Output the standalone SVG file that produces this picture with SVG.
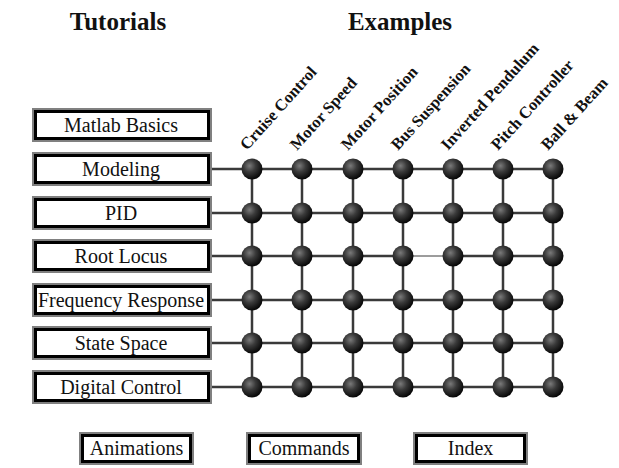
<svg xmlns="http://www.w3.org/2000/svg" xmlns:xlink="http://www.w3.org/1999/xlink" width="619" height="468" viewBox="0 0 619 468">
<style>
.title{font-family:"Liberation Serif","Times New Roman",serif;font-weight:bold;font-size:25px;fill:#111;text-anchor:middle}
.lbl{font-family:"Liberation Serif","Times New Roman",serif;font-size:20px;fill:#111;text-anchor:middle}
.ex{font-family:"Liberation Serif","Times New Roman",serif;font-weight:bold;font-size:16.5px;fill:#111}
.frame{fill:#fff;stroke:#808080;stroke-width:2}
.inner{fill:none;stroke:#000;stroke-width:3}
.wire{stroke:#3a3a3a;stroke-width:2.5;fill:none}
.thin{stroke:#3a3a3a;stroke-width:1;fill:none}
</style>
<defs>
<radialGradient id="bg" cx="0.38" cy="0.35" r="0.65">
<stop offset="0" stop-color="#7a7a7a"/>
<stop offset="0.45" stop-color="#3a3a3a"/>
<stop offset="1" stop-color="#080808"/>
</radialGradient>
<circle id="ball" r="10.5" fill="url(#bg)"/>
</defs>
<rect width="619" height="468" fill="#fff"/>
<g id="titles">
<text class="title" x="118" y="30">Tutorials</text>
<text class="title" x="400" y="30">Examples</text>
</g>
<g id="connectors">
<path class="wire" d="M212 169H553M212 213H553M212 256H403M453 256H553M212 300H553M212 343H553M212 387H553"/>
<path class="thin" d="M403 256H453"/>
<path class="wire" d="M252 169V387M302 169V387M353 169V387M403 169V387M453 169V387M503 169V387M553 169V387"/>
</g>
<g id="tutorial-matlab-basics"><rect class="frame" x="33" y="109" width="178" height="32"/><rect class="inner" x="35.5" y="111.5" width="173" height="27"/><text class="lbl" x="121" y="132">Matlab Basics</text></g>
<g id="tutorial-modeling"><rect class="frame" x="33" y="153" width="178" height="32"/><rect class="inner" x="35.5" y="155.5" width="173" height="27"/><text class="lbl" x="121" y="176">Modeling</text></g>
<g id="tutorial-pid"><rect class="frame" x="33" y="197" width="178" height="32"/><rect class="inner" x="35.5" y="199.5" width="173" height="27"/><text class="lbl" x="121" y="220">PID</text></g>
<g id="tutorial-root-locus"><rect class="frame" x="33" y="240" width="178" height="32"/><rect class="inner" x="35.5" y="242.5" width="173" height="27"/><text class="lbl" x="121" y="263">Root Locus</text></g>
<g id="tutorial-frequency-response"><rect class="frame" x="33" y="284" width="178" height="32"/><rect class="inner" x="35.5" y="286.5" width="173" height="27"/><text class="lbl" x="121" y="307">Frequency Response</text></g>
<g id="tutorial-state-space"><rect class="frame" x="33" y="327" width="178" height="32"/><rect class="inner" x="35.5" y="329.5" width="173" height="27"/><text class="lbl" x="121" y="350">State Space</text></g>
<g id="tutorial-digital-control"><rect class="frame" x="33" y="371" width="178" height="32"/><rect class="inner" x="35.5" y="373.5" width="173" height="27"/><text class="lbl" x="121" y="394">Digital Control</text></g>
<g id="example-labels">
<text class="ex" transform="translate(247 151) rotate(-48)">Cruise Control</text>
<text class="ex" transform="translate(297 151) rotate(-48)">Motor Speed</text>
<text class="ex" transform="translate(348 151) rotate(-48)">Motor Position</text>
<text class="ex" transform="translate(398 151) rotate(-48)">Bus Suspension</text>
<text class="ex" transform="translate(448 151) rotate(-48)">Inverted Pendulum</text>
<text class="ex" transform="translate(498 151) rotate(-48)">Pitch Controller</text>
<text class="ex" transform="translate(548 151) rotate(-48)">Ball &amp; Beam</text>
</g>
<g id="grid-nodes">
<g id="row-modeling"><use href="#ball" x="252" y="169"/><use href="#ball" x="302" y="169"/><use href="#ball" x="353" y="169"/><use href="#ball" x="403" y="169"/><use href="#ball" x="453" y="169"/><use href="#ball" x="503" y="169"/><use href="#ball" x="553" y="169"/></g>
<g id="row-pid"><use href="#ball" x="252" y="213"/><use href="#ball" x="302" y="213"/><use href="#ball" x="353" y="213"/><use href="#ball" x="403" y="213"/><use href="#ball" x="453" y="213"/><use href="#ball" x="503" y="213"/><use href="#ball" x="553" y="213"/></g>
<g id="row-root-locus"><use href="#ball" x="252" y="256"/><use href="#ball" x="302" y="256"/><use href="#ball" x="353" y="256"/><use href="#ball" x="403" y="256"/><use href="#ball" x="453" y="256"/><use href="#ball" x="503" y="256"/><use href="#ball" x="553" y="256"/></g>
<g id="row-frequency"><use href="#ball" x="252" y="300"/><use href="#ball" x="302" y="300"/><use href="#ball" x="353" y="300"/><use href="#ball" x="403" y="300"/><use href="#ball" x="453" y="300"/><use href="#ball" x="503" y="300"/><use href="#ball" x="553" y="300"/></g>
<g id="row-state-space"><use href="#ball" x="252" y="343"/><use href="#ball" x="302" y="343"/><use href="#ball" x="353" y="343"/><use href="#ball" x="403" y="343"/><use href="#ball" x="453" y="343"/><use href="#ball" x="503" y="343"/><use href="#ball" x="553" y="343"/></g>
<g id="row-digital"><use href="#ball" x="252" y="387"/><use href="#ball" x="302" y="387"/><use href="#ball" x="353" y="387"/><use href="#ball" x="403" y="387"/><use href="#ball" x="453" y="387"/><use href="#ball" x="503" y="387"/><use href="#ball" x="553" y="387"/></g>
</g>
<g id="btn-animations"><rect class="frame" x="80" y="433" width="113" height="31"/><rect class="inner" x="82.5" y="435.5" width="108" height="26"/><text class="lbl" x="136.5" y="455">Animations</text></g>
<g id="btn-commands"><rect class="frame" x="247" y="433" width="114" height="31"/><rect class="inner" x="249.5" y="435.5" width="109" height="26"/><text class="lbl" x="304" y="455">Commands</text></g>
<g id="btn-index"><rect class="frame" x="414" y="433" width="113" height="31"/><rect class="inner" x="416.5" y="435.5" width="108" height="26"/><text class="lbl" x="470.5" y="455">Index</text></g>
</svg>
